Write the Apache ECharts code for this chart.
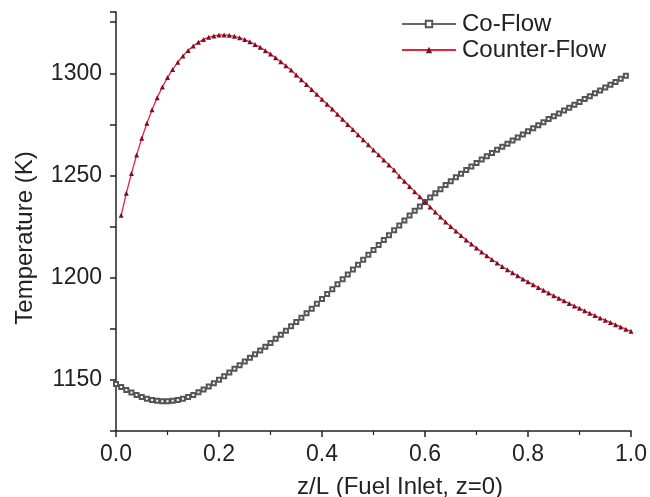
<!DOCTYPE html>
<html>
<head>
<meta charset="utf-8">
<script src="https://cdn.jsdelivr.net/npm/echarts@6/dist/echarts.min.js"></script>
<style>html,body{margin:0;padding:0;background:#fff}#c{width:650px;height:497px}</style>
</head>
<body>
<div id="c"></div>
<script>
// z/L positions
var zCo = [0.00,0.01,0.02,0.03,0.04,0.05,0.06,0.07,0.08,0.09,0.10,0.11,0.12,0.13,0.14,0.15,0.16,0.17,0.18,0.19,
0.20,0.21,0.22,0.23,0.24,0.25,0.26,0.27,0.28,0.29,0.30,0.31,0.32,0.33,0.34,0.35,0.36,0.37,0.38,0.39,
0.40,0.41,0.42,0.43,0.44,0.45,0.46,0.47,0.48,0.49,0.50,0.51,0.52,0.53,0.54,0.55,0.56,0.57,0.58,0.59,
0.60,0.61,0.62,0.63,0.64,0.65,0.66,0.67,0.68,0.69,0.70,0.71,0.72,0.73,0.74,0.75,0.76,0.77,0.78,0.79,
0.80,0.81,0.82,0.83,0.84,0.85,0.86,0.87,0.88,0.89,0.90,0.91,0.92,0.93,0.94,0.95,0.96,0.97,0.98,0.99];
var coFlow = [1148.0,1146.5,1145.0,1143.8,1142.6,1141.6,1140.8,1140.2,1139.8,1139.6,1139.6,1139.8,1140.2,1140.8,1141.6,1142.6,1143.9,1145.3,1146.8,1148.4,
1150.1,1151.8,1153.6,1155.4,1157.2,1159.0,1160.8,1162.6,1164.4,1166.2,1168.1,1170.1,1172.1,1174.1,1176.2,1178.3,1180.4,1182.6,1184.8,1187.2,
1189.6,1192.0,1194.4,1196.8,1199.2,1201.6,1204.0,1206.4,1208.8,1211.2,1213.6,1216.0,1218.4,1220.8,1223.2,1225.6,1228.0,1230.4,1232.7,1234.9,
1237.1,1239.2,1241.3,1243.3,1245.3,1247.2,1249.1,1250.9,1252.7,1254.4,1256.1,1257.8,1259.4,1261.0,1262.6,1264.1,1265.6,1267.1,1268.6,1270.1,
1271.6,1273.1,1274.6,1276.1,1277.6,1279.0,1280.4,1281.8,1283.2,1284.6,1286.0,1287.4,1288.8,1290.2,1291.6,1293.0,1294.4,1295.8,1297.3,1298.8];
var zCounter = [0.01,0.02,0.03,0.04,0.05,0.06,0.07,0.08,0.09,0.10,0.11,0.12,0.13,0.14,0.15,0.16,0.17,0.18,0.19,0.20,
0.21,0.22,0.23,0.24,0.25,0.26,0.27,0.28,0.29,0.30,0.31,0.32,0.33,0.34,0.35,0.36,0.37,0.38,0.39,0.40,
0.41,0.42,0.43,0.44,0.45,0.46,0.47,0.48,0.49,0.50,0.51,0.52,0.53,0.54,0.55,0.56,0.57,0.58,0.59,0.60,
0.61,0.62,0.63,0.64,0.65,0.66,0.67,0.68,0.69,0.70,0.71,0.72,0.73,0.74,0.75,0.76,0.77,0.78,0.79,0.80,
0.81,0.82,0.83,0.84,0.85,0.86,0.87,0.88,0.89,0.90,0.91,0.92,0.93,0.94,0.95,0.96,0.97,0.98,0.99,1.00];
var counterFlow = [1230.5,1241.3,1251.0,1260.0,1268.2,1275.6,1282.2,1288.1,1293.3,1297.9,1301.9,1305.4,1308.5,1311.2,1313.4,1315.2,1316.6,1317.6,1318.3,1318.7,
1318.8,1318.6,1318.1,1317.4,1316.5,1315.4,1314.1,1312.7,1311.1,1309.4,1307.6,1305.7,1303.7,1301.6,1299.2,1296.9,1294.5,1292.1,1289.7,1287.3,
1284.9,1282.5,1280.0,1277.5,1275.0,1272.5,1270.0,1267.5,1265.0,1262.5,1260.1,1257.6,1255.2,1252.7,1249.7,1247.2,1244.6,1242.1,1239.6,1237.1,
1234.6,1232.1,1229.7,1227.3,1225.0,1222.8,1220.6,1218.5,1216.5,1214.5,1212.6,1210.7,1208.9,1207.2,1205.5,1203.9,1202.4,1200.9,1199.4,1198.0,
1196.6,1195.2,1193.9,1192.5,1191.2,1189.9,1188.7,1187.4,1186.2,1185.0,1183.8,1182.6,1181.5,1180.3,1179.2,1178.1,1177.0,1175.9,1174.8,1173.8];
var seriesNames = ['Co-Flow','Counter-Flow'];
var xAxisTitle = 'z/L (Fuel Inlet, z=0)';
var yAxisTitle = 'Temperature (K)';

function pairs(xs, ys){ return xs.map(function(x,i){ return [x, ys[i]]; }); }

var FONT = 'Liberation Sans, Arial, sans-serif';
var chart = echarts.init(document.getElementById('c'), null, {renderer:'canvas'});
chart.setOption({
  animation:false,
  backgroundColor:'#ffffff',
  grid:{left:116, right:17, top:12, bottom:66, containLabel:false},
  legend:{
    orient:'vertical', left:396, top:7, itemGap:2,
    itemWidth:54, itemHeight:8,
    textStyle:{fontFamily:FONT, fontSize:24, color:'#222', padding:[0,0,0,1]},
    data:seriesNames
  },
  xAxis:{
    type:'value', min:0, max:1, interval:0.2,
    axisLine:{show:true, lineStyle:{color:'#222', width:1.5}},
    axisTick:{show:true, inside:false, length:6, lineStyle:{color:'#222', width:1.5}},
    minorTick:{show:true, splitNumber:2, length:4, lineStyle:{color:'#222', width:1.2}},
    splitLine:{show:false},
    axisLabel:{fontFamily:FONT, fontSize:23, color:'#222', margin:12,
      formatter:function(v){ return v.toFixed(1); }}
  },
  yAxis:{
    type:'value', min:1125, max:1330, interval:25,
    axisLine:{show:true, lineStyle:{color:'#222', width:1.5}},
    axisTick:{show:true, inside:false, length:6, lineStyle:{color:'#222', width:1.5}},
    splitLine:{show:false},
    axisLabel:{fontFamily:FONT, fontSize:23, color:'#222', margin:14,
      formatter:function(v){ return (v % 50 === 0) ? String(v) : ''; }}
  },
  graphic:[
    {type:'text', x:400, y:487, style:{text:xAxisTitle, fontFamily:FONT, fontSize:24, fill:'#222', textAlign:'center', textVerticalAlign:'middle'}},
    {type:'text', x:25, y:238, rotation:Math.PI/2, style:{text:yAxisTitle, fontFamily:FONT, fontSize:24, fill:'#222', textAlign:'center', textVerticalAlign:'middle'}}
  ],
  series:[
    {name:seriesNames[0], type:'line', data:pairs(zCo, coFlow),
      symbol:'emptyRect', symbolSize:4, showAllSymbol:true,
      lineStyle:{color:'#666', width:1},
      itemStyle:{color:'#555', borderColor:'#555', borderWidth:0.8}},
    {name:seriesNames[1], type:'line', data:pairs(zCounter, counterFlow),
      symbol:'triangle', symbolSize:5, showAllSymbol:true,
      lineStyle:{color:'#e8223a', width:1.3},
      itemStyle:{color:'#7a1026', borderColor:'#7a1026', borderWidth:0}}
  ]
});
</script>
</body>
</html>
